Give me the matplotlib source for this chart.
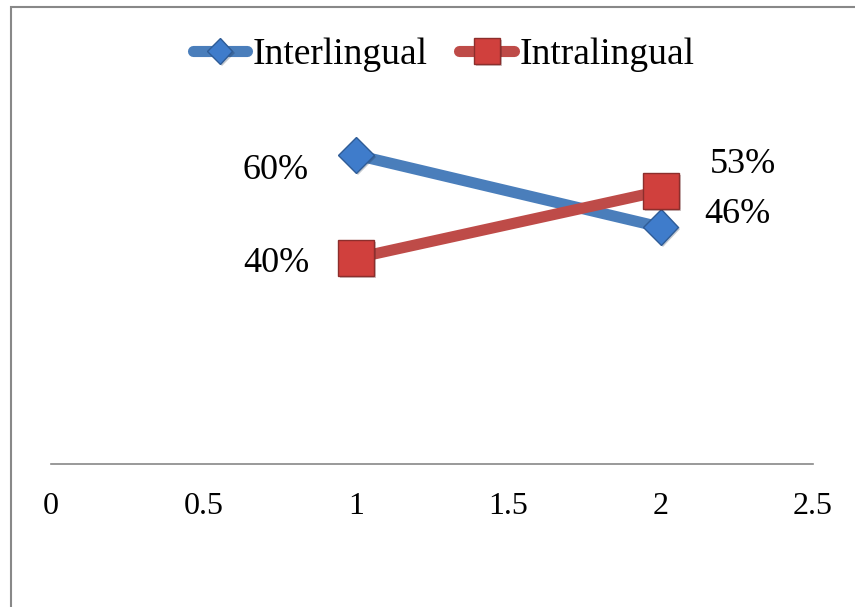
import matplotlib.pyplot as plt
import matplotlib.patheffects as pe
from matplotlib.patches import Rectangle

plt.rcParams['font.family'] = ['Liberation Serif', 'DejaVu Serif']

# data
x = [1, 2]
inter = [60, 46]
intra = [40, 53]
series_names = ['Interlingual', 'Intralingual']
xticks = [0, 0.5, 1, 1.5, 2, 2.5]
xtick_labels = ['0', '0.5', '1', '1.5', '2', '2.5']

blue = '#4A7EBB'
red = '#BE4B48'

fig = plt.figure(figsize=(8.55, 6.07), dpi=100)
ax = fig.add_axes([0.0597, 0.2356, 0.8912, 0.6787])

shadow = [pe.SimplePatchShadow(offset=(1.5, -1.5), alpha=0.25), pe.Normal()]

ax.plot(x, inter, color=blue, lw=8, solid_capstyle='round', marker='D',
        markersize=18, markerfacecolor='#3F7CCB', markeredgecolor='#2F5C96',
        markeredgewidth=1, label=series_names[0], path_effects=shadow, zorder=3)
ax.plot(x, intra, color=red, lw=8, solid_capstyle='round', marker='s',
        markersize=26, markerfacecolor='#D0403D', markeredgecolor='#8C2E2C',
        markeredgewidth=1, label=series_names[1], path_effects=shadow, zorder=3)

# value labels
lbl_offsets_inter = [(-58, -11), (55, 9)]
lbl_offsets_intra = [(-57, -4), (59, 19)]
for xi, v, off in zip(x, inter, lbl_offsets_inter):
    ax.annotate(f'{v}%', (xi, v), xytext=off, textcoords='offset points',
                ha='center', va='center', fontsize=26)
for xi, v, off in zip(x, intra, lbl_offsets_intra):
    ax.annotate(f'{v}%', (xi, v), xytext=off, textcoords='offset points',
                ha='center', va='center', fontsize=26)

ax.set_xlim(0, 2.5)
ax.set_ylim(0, 80)
ax.set_xticks(xticks)
ax.set_xticklabels(xtick_labels, fontsize=23)
ax.tick_params(axis='x', length=0, pad=20)
ax.set_yticks([])
for s in ['top', 'right', 'left']:
    ax.spines[s].set_visible(False)
ax.spines['bottom'].set_color('#888888')
ax.spines['bottom'].set_linewidth(1.2)

leg = ax.legend(loc='center', bbox_to_anchor=(0.515, 0.993), ncol=2, frameon=False,
                fontsize=27, handlelength=1.45, handletextpad=0.15,
                columnspacing=0.85, markerscale=0.72)

# outer frame
fig.patches.append(Rectangle((11 / 855, -0.05), 1.1, 1.05 - 7 / 607,
                             transform=fig.transFigure, fill=False,
                             edgecolor='#888888', lw=1.5))

fig.savefig('out.png', dpi=100)
